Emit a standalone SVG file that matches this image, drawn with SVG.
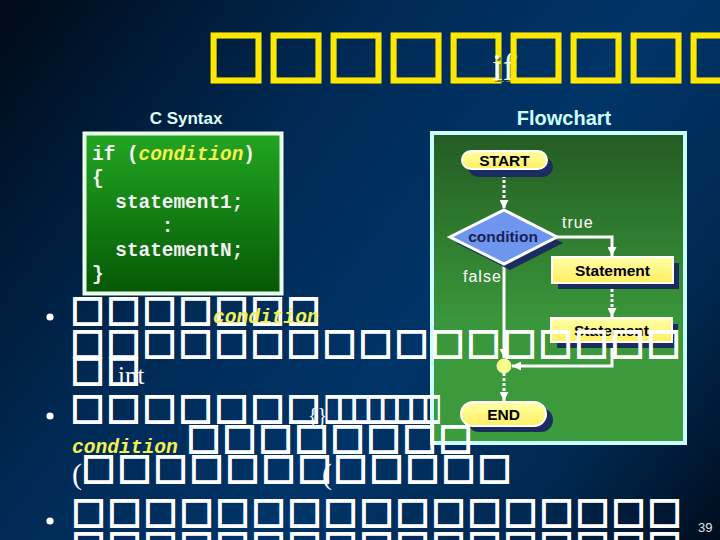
<svg xmlns="http://www.w3.org/2000/svg" width="720" height="540" viewBox="0 0 720 540">
<defs>
<linearGradient id="bg" x1="0" y1="0" x2="720" y2="540" gradientUnits="userSpaceOnUse">
<stop offset="0" stop-color="#000a18"/>
<stop offset="0.35" stop-color="#002a55"/>
<stop offset="0.6" stop-color="#003468"/>
<stop offset="0.82" stop-color="#00284f"/>
<stop offset="1" stop-color="#000c1e"/>
</linearGradient>
<linearGradient id="codeFill" x1="0" y1="0" x2="0" y2="1">
<stop offset="0" stop-color="#22a622"/>
<stop offset="1" stop-color="#065806"/>
</linearGradient>
<linearGradient id="flowFill" x1="0" y1="0" x2="0" y2="1">
<stop offset="0" stop-color="#245c24"/>
<stop offset="0.6" stop-color="#3a963a"/>
<stop offset="1" stop-color="#3d9c3d"/>
</linearGradient>
<linearGradient id="yel" x1="0" y1="0" x2="0" y2="1">
<stop offset="0" stop-color="#ffffa8"/>
<stop offset="1" stop-color="#ffef60"/>
</linearGradient>
<marker id="ah" viewBox="0 0 10 10" refX="10" refY="5" markerWidth="9" markerHeight="9" markerUnits="userSpaceOnUse" orient="auto">
<path d="M0,0 L10,5 L0,10 Z" fill="#ffffff"/>
</marker>
</defs>
<style>
.tofu{font-family:"Liberation Sans",sans-serif;font-size:45px;fill:#ffffff;stroke:#ffffff;stroke-width:2}
.ttl{font-size:80px;fill:#ffe800;stroke:#ffe800;stroke-width:3}
.lbl{font-family:"Liberation Sans",Arial,sans-serif;font-weight:bold;text-anchor:middle;fill:#000000;font-size:15.5px}
.head{font-family:"Liberation Sans",Arial,sans-serif;font-weight:bold;text-anchor:middle;fill:#dcffff}
.code{font-family:"Liberation Mono",monospace;font-weight:bold;font-size:19.4px;fill:#f2f2f2}
.cond{font-family:"Liberation Mono",monospace;font-weight:bold;font-style:italic;fill:#f4f050}
.serif{font-family:"Liberation Serif",serif;fill:#ffffff}
.shadow{fill:#1a2d5e}
.pill{fill:url(#yel);stroke:#ffffff;stroke-width:2}
.flow{stroke:#ffffff;stroke-width:3;fill:none}
.dash{stroke-dasharray:3 2}
.note{font-family:"Liberation Sans",sans-serif;font-size:16px;fill:#ffffff;letter-spacing:1px}
</style>
<rect x="0" y="0" width="720" height="540" fill="url(#bg)"/>

<g id="title">
<text class="tofu ttl" x="212 272 332 392 452" y="82">□□□□□</text>
<text class="serif" x="494" y="82" font-size="38" style="fill:#7d7d30">if</text>
<text class="serif" x="492" y="80" font-size="38" style="fill:#e8ffff">if</text>
<text class="tofu ttl" x="512 572 632 692" y="82">□□□□</text>
</g>

<g id="code-panel">
<text class="head" x="186" y="124" font-size="17">C Syntax</text>
<rect x="84.5" y="133.5" width="197" height="160" fill="url(#codeFill)" stroke="#eaffea" stroke-width="4"/>
<text class="code" x="92" y="160">if (<tspan class="cond">condition</tspan>)</text>
<text class="code" x="92" y="184">{</text>
<text class="code" x="115.3" y="208">statement1;</text>
<text class="code" x="161.8" y="232">:</text>
<text class="code" x="115.3" y="256">statementN;</text>
<text class="code" x="92" y="280">}</text>
</g>

<g id="flowchart-panel">
<text class="head" x="564" y="125" font-size="20" style="fill:#ccffff">Flowchart</text>
<rect x="432" y="133" width="253" height="310" fill="url(#flowFill)" stroke="#ccffff" stroke-width="4"/>
</g>

<g id="connectors">
<path class="flow dash" d="M504,170 V209" marker-end="url(#ah)"/>
<path class="flow" d="M557,237 H612 V256" marker-end="url(#ah)"/>
<path class="flow dash" d="M612,284 V317" marker-end="url(#ah)"/>
<path class="flow" d="M612,342 V366 H512" marker-end="url(#ah)"/>
<path class="flow" d="M504,264 V358" marker-end="url(#ah)"/>
<path class="flow dash" d="M504,373 V401" marker-end="url(#ah)"/>
</g>

<g id="start">
<rect class="shadow" x="468" y="157" width="85" height="20" rx="10"/>
<rect class="pill" x="462" y="151" width="85" height="18" rx="9"/>
<text class="lbl" x="504.5" y="166">START</text>
</g>

<g id="condition">
<polygon class="shadow" points="510,216 563,243 510,270 456,243"/>
<polygon points="504,210 557,237 504,264 450,237" fill="#6f96ee" stroke="#ffffff" stroke-width="3"/>
<text class="lbl" x="503" y="242" style="fill:#1a1f5a">condition</text>
<text class="note" x="562" y="228">true</text>
<text class="note" x="463" y="282">false</text>
</g>

<g id="statement1">
<rect class="shadow" x="558" y="263" width="121" height="26"/>
<rect class="pill" x="552" y="257" width="121" height="26"/>
<text class="lbl" x="612.5" y="275.5">Statement</text>
</g>

<g id="statement2">
<rect class="shadow" x="557" y="324" width="121" height="24"/>
<rect class="pill" x="551" y="318" width="121" height="24"/>
<text class="lbl" x="611.5" y="335.5">Statement</text>
</g>

<g id="junction">
<circle cx="504" cy="366" r="7" fill="#ffff88" stroke="#ffffcc" stroke-width="1"/>
</g>

<g id="end">
<rect class="shadow" x="467" y="408" width="86" height="24" rx="12"/>
<rect class="pill" x="461" y="402" width="85" height="24" rx="12"/>
<text class="lbl" x="503.5" y="419.5">END</text>
</g>

<g id="bullets">
<circle cx="50" cy="317" r="3.6" fill="#ffffff"/>
<circle cx="50" cy="416" r="3.6" fill="#ffffff"/>
<circle cx="50" cy="521" r="3.6" fill="#ffffff"/>
<text class="tofu" x="74 110 146 182 218 254 290" y="325">□□□□□□□</text>
<text class="cond" x="213" y="323" font-size="19.6">condition</text>
<text class="tofu" x="74 110 146 182 218 254 290 326 362 398 434 470 506 542 578 614 650" y="358">□□□□□□□□□□□□□□□□□</text>
<text class="tofu" x="74 110" y="385">□□</text>
<text class="serif" x="118" y="384" font-size="25">int</text>
<text class="tofu" x="74 110 146 182 218 254 290" y="423">□□□□□□□</text>
<text class="serif" x="308" y="422" font-size="20">{}</text>
<text class="tofu" transform="translate(326,423) scale(0.5,1)" x="0 28.5 57 85.5 114 142.5 171 199.5" y="0">□□□□□□□□</text>
<text class="cond" x="72" y="453" font-size="19.6">condition</text>
<text class="tofu" x="190 226 262 298 334 370 406 442" y="453">□□□□□□□□</text>
<text class="serif" x="72" y="484" font-size="30">(</text>
<text class="tofu" x="85 121 157 193 229 265 301" y="483">□□□□□□□</text>
<text class="serif" x="322" y="484" font-size="30">(</text>
<text class="tofu" x="337 373 409 445 481" y="483">□□□□□</text>
<text class="tofu" x="75 111 147 183 219 255 291 327 363 399 435 471 507 543 579 615 651" y="527">□□□□□□□□□□□□□□□□□</text>
<text class="tofu" x="75 111 147 183 219 255 291 327 363 399 435 471 507 543 579 615 651" y="560">□□□□□□□□□□□□□□□□□</text>
</g>

<text x="698" y="532" style="font-family:'Liberation Sans Narrow','Liberation Sans',sans-serif;font-size:13px;fill:#e0e0e0">39</text>
</svg>
